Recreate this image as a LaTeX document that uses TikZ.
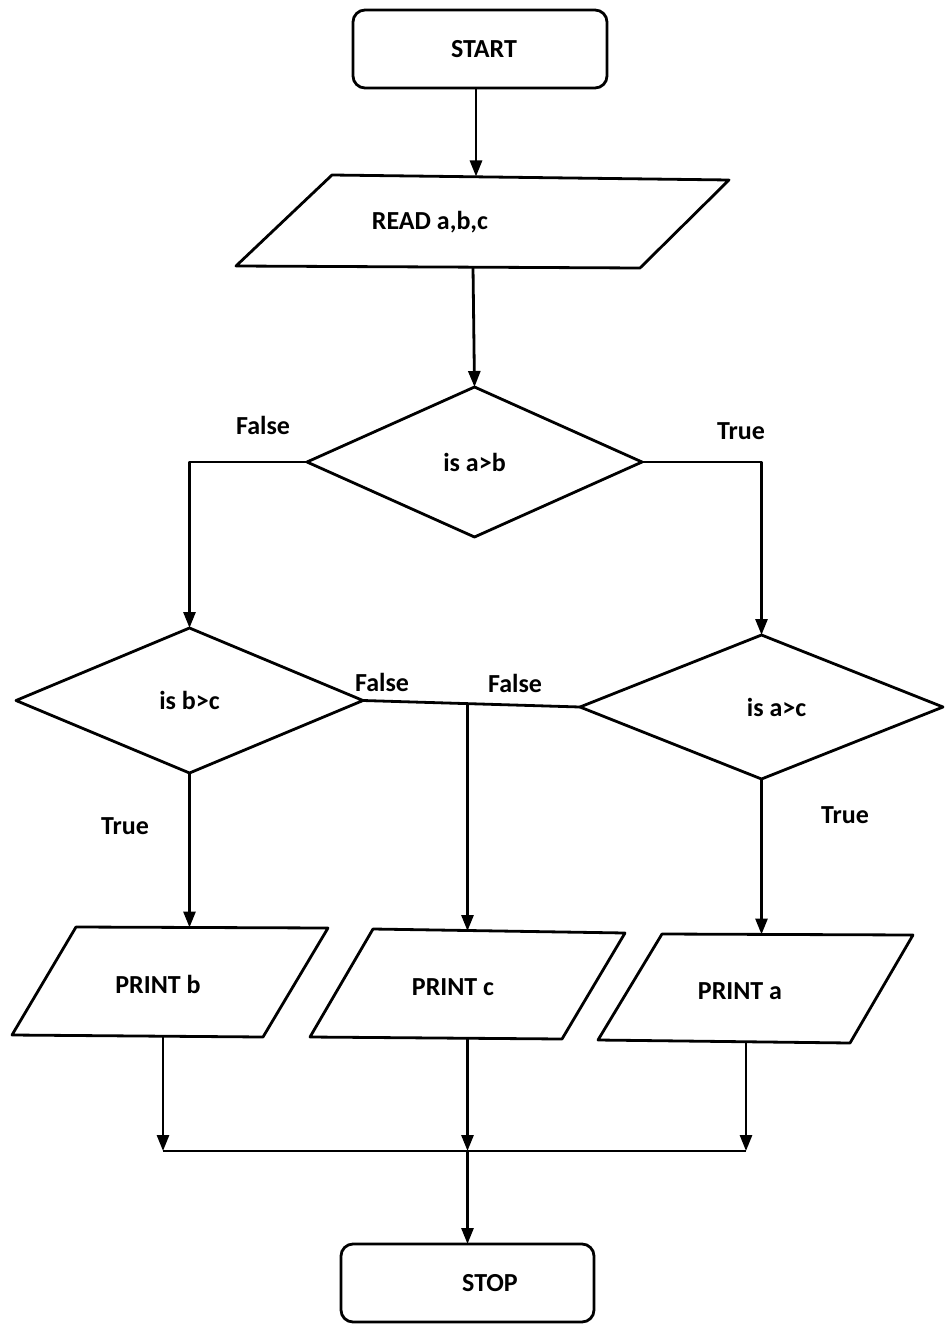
\documentclass[tikz,border=0pt]{standalone}
\usepackage{fontspec}
\setmainfont{Carlito}
\usetikzlibrary{shapes.geometric,arrows.meta}
\begin{document}
\begin{tikzpicture}[x=1pt,y=-1pt,
  every node/.style={font=\bfseries\fontsize{26}{30}\selectfont, outer sep=0pt},
  line/.style={line width=2.8pt, line join=round},
  arr/.style={line, -{Triangle[length=16pt,width=12pt]}},
  term/.style={draw, line, rectangle, rounded corners=12pt, minimum width=254pt, minimum height=78pt, inner sep=0pt},
  dec/.style={draw, line, diamond, inner sep=0pt},
  tag/.style={inner sep=0pt}]
\useasboundingbox (0,0) rectangle (946,1324);

% terminals
\node[term] (st) at (480,49) {\hspace*{8pt}START};
\node[term, minimum width=253pt] (sp) at (467.5,1283) {\hspace*{45pt}STOP};

% input: READ a,b,c
\coordinate (rdT) at (476,176.5);
\coordinate (rdB) at (473,267);
\draw[line] (332,175) -- (729,180) -- (640,268) -- (236,266) -- cycle;
\node[tag] (rd) at (430,222) {READ a,b,c};

% decisions
\node[dec, minimum width=335pt, minimum height=150pt] (ab) at (474.5,462) {is a>b};
\node[dec, minimum width=347pt, minimum height=145pt] (bc) at (189.5,700.5) {is b>c};
\node[dec, minimum width=363pt, minimum height=144pt,
      label={[tag,xshift=15pt]center:is a>c}] (ac) at (761.5,707) {};

% outputs
\draw[line] (76,927) -- (328,928) -- (263,1037) -- (12,1035) -- cycle;
\node[tag] (pb) at (158,984) {PRINT b};
\coordinate (pbT) at (189.5,927.5);
\coordinate (pbB) at (163,1036);

\draw[line] (373,929) -- (625,933) -- (562,1039) -- (310,1037) -- cycle;
\node[tag] (pc) at (453,987) {PRINT c};
\coordinate (pcT) at (467.5,931);
\coordinate (pcB) at (467.5,1038);

\draw[line] (662,934) -- (913,935) -- (850,1043) -- (598,1040) -- cycle;
\node[tag] (pa) at (740,991) {PRINT a};
\coordinate (paT) at (761.5,934.5);
\coordinate (paB) at (746,1042);

% branch labels
\node[tag] (f1) at (263,425) {False};
\node[tag] (t1) at (741,431) {True};
\node[tag] (f2) at (382,682) {False};
\node[tag] (f3) at (515,683) {False};
\node[tag] (t2) at (125,826) {True};
\node[tag] (t3) at (845,815) {True};

% flow
\draw[arr] (rdT |- st.south) -- (rdT);
\draw[arr] (rdB) -- (ab.north);
\draw[arr] (ab.west) -| (bc.north);
\draw[arr] (ab.east) -| (ac.north);
\draw[line] (bc.east) -- (ac.west);
\coordinate (jn) at (467.5,705);
\draw[arr] (jn) -- (pcT);
\draw[arr] (bc.south) -- (pbT);
\draw[arr] (ac.south) -- (paT);

% merge to stop
\coordinate (mb) at (163,1151);
\coordinate (ma) at (746,1151);
\coordinate (mc) at (467.5,1151);
\draw[arr] (pbB) -- (mb);
\draw[arr] (paB) -- (ma);
\draw[arr] (pcB) -- (mc);
\draw[line] (mb) -- (ma);
\draw[arr] (mc) -- (sp.north);
\end{tikzpicture}
\end{document}
